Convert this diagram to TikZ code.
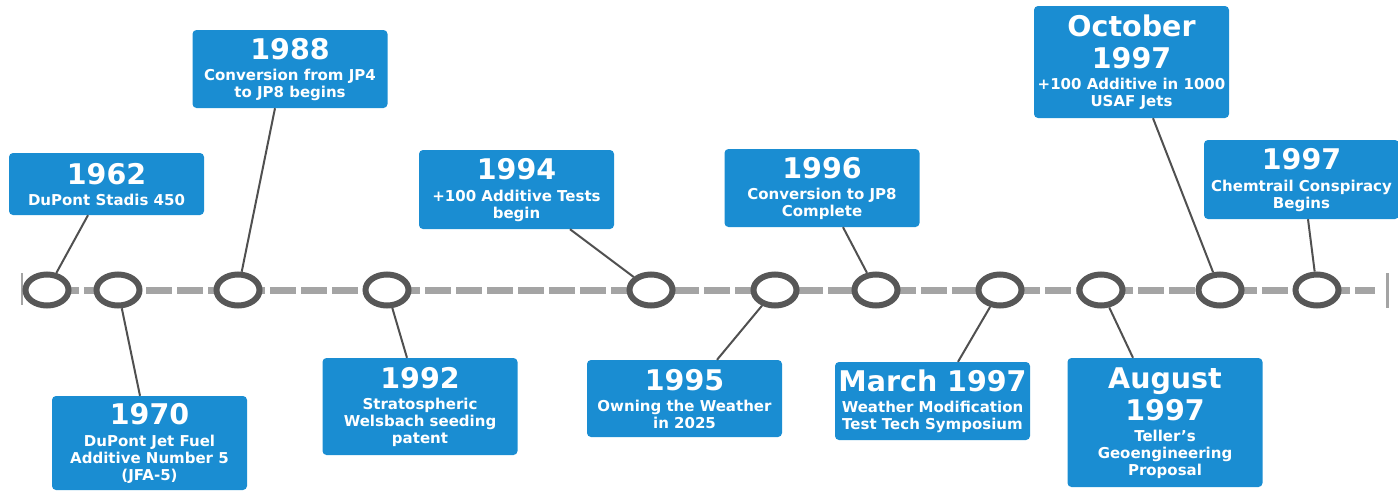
\documentclass[tikz,border=0pt]{standalone}
\usepackage{fontspec}
\setmainfont{DejaVu Sans}
\usetikzlibrary{shapes.geometric}
\definecolor{boxblue}{HTML}{1A8DD2}
\definecolor{ringgray}{HTML}{575757}
\definecolor{dashgray}{HTML}{A4A4A4}
\definecolor{stemgray}{HTML}{505050}
\newcommand\subfont{\bfseries\fontsize{15}{17}\selectfont}
\newcommand\yr[1]{{\fontsize{28.5}{34}\selectfont\rule[-9pt]{0pt}{31pt}#1}}

\begin{document}
\begin{tikzpicture}[x=1pt,y=-1pt,
  evbox/.style={fill=boxblue,text=white,rounded corners=4pt,minimum width=195pt,inner sep=1pt,align=center,font=\subfont},
  ring/.style={ellipse,draw=ringgray,line width=6pt,fill=white,minimum width=43pt,minimum height=31pt,inner sep=0pt},
  stem/.style={draw=stemgray,line width=2pt}]
\useasboundingbox (0,0) rectangle (1398,493);
% time axis
\coordinate (tl) at (22,290);
\coordinate (tr) at (1375,290);
\coordinate (te) at (1387,290);
\draw[dashgray,line width=7pt,dash pattern=on 26pt off 5pt] (tl) -- (tr);
\draw[dashgray,line width=2.5pt] ([yshift=17pt]tl) -- ([yshift=-15pt]tl);
\draw[dashgray,line width=3pt] ([yshift=17pt]te) -- ([yshift=-18pt]te);
\foreach \n/\x in {1/47,2/118,3/238,4/387,5/651,6/775,7/876,8/1000,9/1101,10/1220,11/1317}
  \node[ring] (c\n) at (\x,290) {};
% events above and below
\node[evbox,minimum height=62pt] (b62) at (106.5,184) {\yr{1962}\\DuPont Stadis 450};
\node[evbox,minimum height=94pt] (b70) at (149.5,443) {\yr{1970}\\DuPont Jet Fuel\\Additive Number 5\\(JFA-5)};
\node[evbox,minimum height=78pt] (b88) at (290,69) {\yr{1988}\\Conversion from JP4\\to JP8 begins};
\node[evbox,minimum height=97pt] (b92) at (420,406.5) {\yr{1992}\\Stratospheric\\Welsbach seeding\\patent};
\node[evbox,minimum height=79pt] (b94) at (516.5,189.5) {\yr{1994}\\+100 Additive Tests\\begin};
\node[evbox,minimum height=77pt] (b95) at (684.5,398.5) {\yr{1995}\\Owning the Weather\\in 2025};
\node[evbox,minimum height=78pt] (b96) at (822,188) {\yr{1996}\\Conversion to JP8\\Complete};
\node[evbox,minimum height=78pt] (bmar) at (932.5,401) {\yr{March 1997}\\Weather Modification\\Test Tech Symposium};
\node[evbox,minimum height=129pt] (baug) at (1165,422.5) {\yr{August}\\\yr{1997}\\Teller's\\Geoengineering\\Proposal};
\node[evbox,minimum height=112pt] (boct) at (1131.5,62) {\yr{October}\\\yr{1997}\\+100 Additive in 1000\\USAF Jets};
\node[evbox,minimum height=79pt] (bchem) at (1301.5,179.5) {\yr{1997}\\Chemtrail Conspiracy\\Begins};
% stems
\draw[stem] ([xshift=-18.5pt]b62.south) -- (c1);
\draw[stem] ([xshift=-9.5pt]b70.north) -- (c2);
\draw[stem] ([xshift=-15pt]b88.south) -- (c3);
\draw[stem] ([xshift=-13pt]b92.north) -- (c4);
\draw[stem] ([xshift=53.5pt]b94.south) -- (c5);
\draw[stem] ([xshift=32.5pt]b95.north) -- (c6);
\draw[stem] ([xshift=21pt]b96.south) -- (c7);
\draw[stem] ([xshift=25.5pt]bmar.north) -- (c8);
\draw[stem] ([xshift=-32pt]baug.north) -- (c9);
\draw[stem] ([xshift=21.5pt]boct.south) -- (c10);
\draw[stem] ([xshift=6.5pt]bchem.south) -- (c11);
\end{tikzpicture}
\end{document}
